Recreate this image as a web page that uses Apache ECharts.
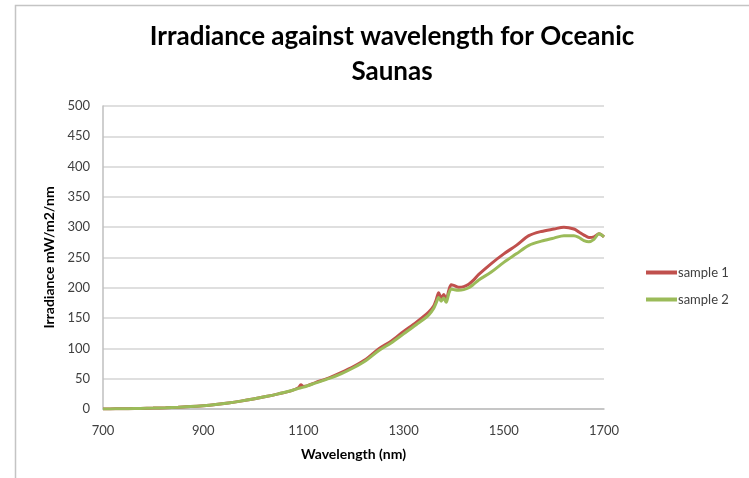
<!DOCTYPE html>
<html>
<head>
<meta charset="utf-8">
<script src="https://cdn.jsdelivr.net/npm/echarts@6/dist/echarts.min.js"></script>
<style>
html,body{margin:0;padding:0;background:#fff;}
#chart{width:749px;height:478px;}
</style>
</head>
<body>
<div id="chart"></div>
<script>
var wavelengths = [700,725,750,775,800,825,850,875,900,925,950,975,1000,1025,1050,1075,1090,1095,1100,1125,1150,1175,1200,1225,1250,1275,1300,1325,1350,1360,1365,1370,1375,1380,1385,1390,1395,1400,1410,1420,1430,1440,1450,1475,1500,1525,1550,1575,1600,1620,1640,1650,1660,1670,1680,1690,1700];
var sample1 = [0,0.3,0.6,1,1.5,2.2,3,4,5.5,7.5,10,13,16.5,20.5,25,30,35,40,37,44,51,60,70,82,99,112,128,143,160,170,180,192,183,189,180,195,205,204,201,202,206,213,222,240,256,270,286,293,297,300,297,292,287,283,284,289,284];
var sample2 = [0,0.3,0.6,1,1.5,2.2,3,4,5.5,7.5,10,13,16.5,20.5,25,30,34,35,36,43,50,58,68,80,96,109,124,139,155,166,175,184,178,183,176,190,198,197,196,197,200,206,213,226,242,256,270,277,282,286,286,283,278,276,280,289,284];
var seriesNames = ['sample 1','sample 2'];
var titleLines = ['Irradiance against wavelength for Oceanic','Saunas'];

function pairs(xs, ys){ return xs.map(function(x,i){ return [x, ys[i]]; }); }

var chart = echarts.init(document.getElementById('chart'));
var font = 'Lato, "Open Sans", sans-serif';
chart.setOption({
  animation:false,
  backgroundColor:'#fff',
  title:{
    text: titleLines.join('\n'),
    left: 387, top: 14, textAlign:'center',
    textStyle:{fontFamily:font, fontSize:26, fontWeight:'bold', color:'#000', lineHeight:35}
  },
  graphic:[{type:'rect', shape:{x:15.5,y:5.5,width:800,height:520}, style:{fill:'none', stroke:'#c4c4c4', lineWidth:1.5}, silent:true}],
  legend:{
    orient:'vertical', left:641, top:261, itemGap:14, itemWidth:31, itemHeight:4,
    icon:'rect',
    textStyle:{fontFamily:font, fontSize:13, color:'#404040', padding:[0,0,0,-4]},
    data: seriesNames
  },
  grid:{left:103, right:145, top:106, bottom:69, containLabel:false},
  xAxis:{
    type:'value', min:700, max:1700, interval:200,
    name:'Wavelength (nm)', nameLocation:'middle', nameGap:38,
    nameTextStyle:{fontFamily:font, fontSize:14, fontWeight:'bold', color:'#000'},
    axisLine:{show:true, lineStyle:{color:'#bfbfbf', width:1.5}},
    axisTick:{show:false},
    axisLabel:{fontFamily:font, fontSize:13, color:'#404040', margin:15, formatter:function(v){return String(v);}},
    splitLine:{show:false}
  },
  yAxis:{
    type:'value', min:0, max:500, interval:50,
    name:'Irradiance mW/m2/nm', nameLocation:'middle', nameGap:46, nameRotate:90,
    nameTextStyle:{fontFamily:font, fontSize:14, fontWeight:'bold', color:'#000', padding:[0,0,0,0]},
    axisLine:{show:true, lineStyle:{color:'#bfbfbf', width:1.5}},
    axisTick:{show:false},
    axisLabel:{fontFamily:font, fontSize:13, color:'#404040', margin:13},
    splitLine:{show:true, lineStyle:{color:'#d4d4d4', width:1.5}}
  },
  series:[
    {name:seriesNames[0], type:'line', data:pairs(wavelengths, sample1), showSymbol:false, smooth:0.3,
     lineStyle:{color:'#c0504d', width:3}, itemStyle:{color:'#c0504d'}, z:3},
    {name:seriesNames[1], type:'line', data:pairs(wavelengths, sample2), showSymbol:false, smooth:0.3,
     lineStyle:{color:'#9bbb59', width:3}, itemStyle:{color:'#9bbb59'}, z:4}
  ]
});
</script>
</body>
</html>
